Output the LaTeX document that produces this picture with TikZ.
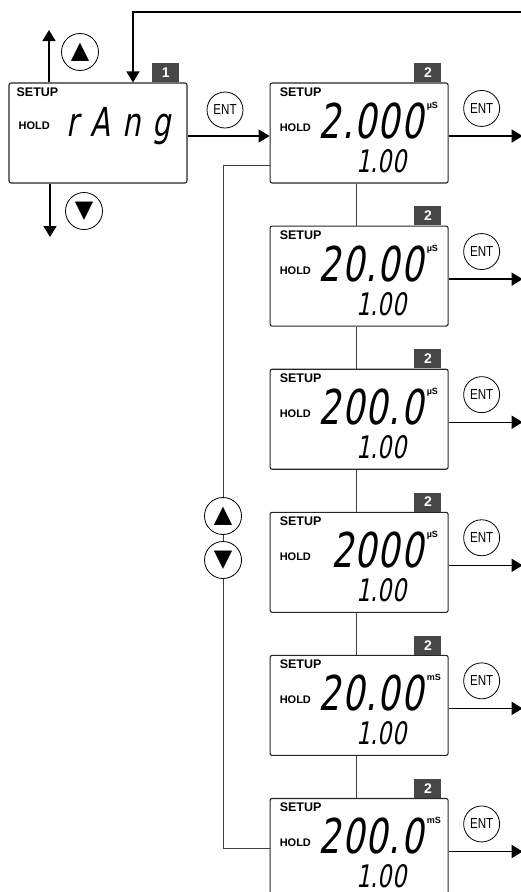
\documentclass[tikz,border=0pt]{standalone}
\usepackage{fontspec}
\setmainfont{Liberation Sans}
\newfontfamily\lcdfont[FakeSlant=0.18,FakeStretch=0.72]{DejaVu Sans}
\newfontfamily\entfont[FakeStretch=0.8]{Liberation Sans}
\newfontfamily\symfont{DejaVu Sans}
\usetikzlibrary{positioning,arrows.meta}

\tikzset{
  lcd/.style={draw=black!85, rounded corners=2pt, minimum width=178pt, minimum height=100pt, line width=1.1pt, inner sep=0pt},
  badge/.style={fill=black!72, text=white, font=\bfseries\fontsize{14}{14}\selectfont, minimum width=27pt, minimum height=19pt, inner sep=0pt, anchor=south east},
  entkey/.style={draw, circle, minimum size=36pt, inner sep=0pt, line width=0.8pt, font=\entfont\fontsize{14.5}{14.5}\selectfont},
  arrkey/.style={draw, circle, minimum size=37pt, inner sep=0pt, fill=white, line width=0.8pt, font=\symfont\fontsize{24}{24}\selectfont},
  tag/.style={font=\bfseries\fontsize{12.5}{12.5}\selectfont, anchor=base west, inner sep=0pt},
  hold/.style={font=\bfseries\fontsize{11}{11}\selectfont, anchor=base west, inner sep=0pt},
  flow/.style={-{Triangle[length=11pt,width=13pt]}, line width=1.4pt},
  link/.style={line width=0.8pt, draw=black!75},
}

\begin{document}
\begin{tikzpicture}[x=1pt,y=1pt]
\clip (0,0) rectangle (521,-892);

% first display
\node[lcd] (b1) at (98,-133) {};
\node[badge] at ([xshift=-8pt]b1.north east) {1};
\node[tag] at ([shift={(8pt,-14pt)}]b1.north west) {SETUP};
\node[hold] at ([shift={(10pt,-47pt)}]b1.north west) {HOLD};
\node[anchor=base west, inner sep=0pt, font=\lcdfont\fontsize{40}{40}\selectfont\addfontfeature{LetterSpace=30}] at ([shift={(58pt,-54pt)}]b1.north west) {rAng};

\node[arrkey] (up1) at (80,-52) {▲};
\node[arrkey] (dn1) at (84,-211) {▼};
\coordinate (uptip) at (49,-30);
\coordinate (dntip) at (50,-237);
\draw[flow] (uptip |- b1.north) -- (uptip);
\draw[flow] (dntip |- b1.south) -- (dntip);

\coordinate (back) at (521,-12);
\draw[flow] (back) -| ([xshift=35pt]b1.north);

% range displays
\node[lcd, right=82pt of b1] (r1) {};
\foreach \i [evaluate=\i as \p using int(\i-1)] in {2,...,6}
  \node[lcd, below=42pt of r\p] (r\i) {};

\foreach \val/\unit [count=\i] in {2.000/µS,20.00/µS,200.0/µS,2000/µS,20.00/mS,200.0/mS} {
  \node[badge] at ([xshift=-7pt]r\i.north east) {2};
  \node[tag] at ([shift={(10pt,-14pt)}]r\i.north west) {SETUP};
  \node[hold] at ([shift={(10pt,-49pt)}]r\i.north west) {HOLD};
  \node[anchor=base east, inner sep=0pt, font=\lcdfont\fontsize{48}{48}\selectfont\addfontfeature{LetterSpace=3}] at ([shift={(154pt,-56pt)}]r\i.north west) {\val};
  \node[anchor=base west, inner sep=0pt, font=\bfseries\fontsize{9}{9}\selectfont] at ([shift={(157pt,-26pt)}]r\i.north west) {\unit};
  \node[anchor=base east, inner sep=0pt, font=\lcdfont\fontsize{31}{31}\selectfont] at ([shift={(137pt,-90pt)}]r\i.north west) {1.00};
  \node[entkey] (e\i) at ([shift={(33pt,-26pt)}]r\i.north east) {ENT};
  \coordinate (o\i) at ([shift={(74pt,-3pt)}]r\i.east);
  \draw[flow] ([yshift=-3pt]r\i.east) -- (o\i);
}
\foreach \i [evaluate=\i as \p using int(\i-1)] in {2,...,6}
  \draw[link] ([xshift=-3pt]r\p.south) -- ([xshift=-3pt]r\i.north);

\node[entkey] (e0) at (225,-110) {ENT};
\draw[flow] ([yshift=-3pt]b1.east) -- ([yshift=-3pt]r1.west);

% scroll loop
\coordinate (lp) at (223,0);
\draw[link] ([yshift=-32pt]r1.west) -| (lp |- r6.west) -- (r6.west);
\node[arrkey] (up2) at (223,-516) {▲};
\node[arrkey] (dn2) at (223,-560) {▼};
\end{tikzpicture}
\end{document}
